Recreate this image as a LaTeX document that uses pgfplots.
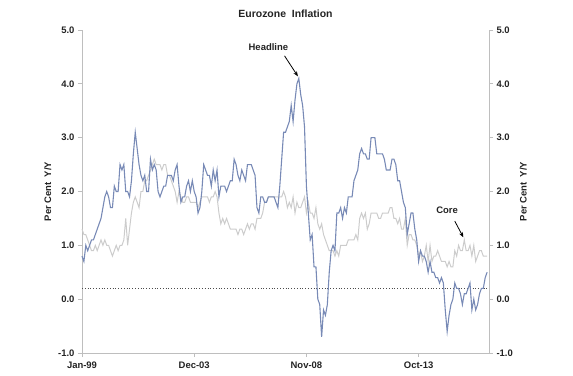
\documentclass[border=0pt]{standalone}
\usepackage{fontspec}
\setmainfont{Liberation Sans}
\usepackage{pgfplots}
\pgfplotsset{compat=1.18}
\usepackage{pgfplotstable}
\usetikzlibrary{arrows.meta}
\definecolor{headc}{RGB}{120,138,182}
\definecolor{corec}{RGB}{204,204,204}
\definecolor{axc}{RGB}{190,190,190}
\definecolor{txt}{RGB}{35,35,35}

\pgfplotstableread{
m v
0 0.8
1 0.7
2 1.0
3 0.9
4 1.0
5 1.1
6 1.1
7 1.2
8 1.3
9 1.4
10 1.5
11 1.7
12 1.9
13 2.0
14 1.9
15 1.7
16 1.7
17 2.1
18 2.0
19 2.0
20 2.5
21 2.4
22 2.5
23 2.0
24 2.0
25 1.9
26 2.2
27 2.7
28 3.1
29 2.8
30 2.5
31 2.3
32 2.2
33 2.3
34 2.0
35 2.0
36 2.6
37 2.4
38 2.5
39 2.4
40 2.0
41 1.9
42 2.0
43 2.1
44 2.1
45 2.3
46 2.3
47 2.3
48 2.2
49 2.4
50 2.5
51 2.1
52 1.8
53 1.9
54 1.9
55 2.1
56 2.2
57 2.0
58 2.2
59 2.0
60 1.9
61 1.6
62 1.7
63 2.0
64 2.5
65 2.4
66 2.3
67 2.3
68 2.1
69 2.4
70 2.2
71 2.4
72 1.9
73 2.1
74 2.1
75 2.1
76 2.0
77 2.1
78 2.2
79 2.2
80 2.6
81 2.5
82 2.3
83 2.2
84 2.4
85 2.3
86 2.2
87 2.5
88 2.5
89 2.5
90 2.4
91 2.3
92 1.7
93 1.6
94 1.9
95 1.9
96 1.8
97 1.8
98 1.9
99 1.9
100 1.9
101 1.9
102 1.8
103 1.7
104 2.1
105 2.6
106 3.1
107 3.1
108 3.2
109 3.3
110 3.6
111 3.3
112 3.7
113 4.0
114 4.1
115 3.8
116 3.6
117 3.2
118 2.1
119 1.6
120 1.1
121 1.2
122 0.6
123 0.6
124 0.0
125 -0.1
126 -0.7
127 -0.2
128 -0.3
129 -0.1
130 0.5
131 0.9
132 1.0
133 0.9
134 1.6
135 1.6
136 1.7
137 1.5
138 1.7
139 1.6
140 1.9
141 1.9
142 1.9
143 2.2
144 2.3
145 2.4
146 2.7
147 2.8
148 2.7
149 2.7
150 2.6
151 2.6
152 3.0
153 3.0
154 3.0
155 2.7
156 2.7
157 2.7
158 2.7
159 2.6
160 2.4
161 2.4
162 2.4
163 2.6
164 2.6
165 2.5
166 2.2
167 2.2
168 2.0
169 1.8
170 1.7
171 1.2
172 1.4
173 1.6
174 1.6
175 1.3
176 1.1
177 0.7
178 0.9
179 0.8
180 0.8
181 0.7
182 0.5
183 0.7
184 0.5
185 0.5
186 0.4
187 0.4
188 0.3
189 0.4
190 0.3
191 -0.2
192 -0.6
193 -0.3
194 -0.1
195 0.0
196 0.3
197 0.2
198 0.2
199 0.1
200 -0.1
201 0.1
202 0.1
203 0.2
204 0.3
205 -0.2
206 0.0
207 -0.2
208 -0.1
209 0.1
210 0.2
211 0.2
212 0.4
213 0.5
}\headline

\pgfplotstableread{
m v
0 1.3
1 1.2
2 1.2
3 1.1
4 1.0
5 0.9
6 0.9
7 1.0
8 0.9
9 1.0
10 1.1
11 1.0
12 1.1
13 1.0
14 1.0
15 0.9
16 0.8
17 0.9
18 1.0
19 0.9
20 1.0
21 1.0
22 1.1
23 1.5
24 1.0
25 1.3
26 1.6
27 1.8
28 1.9
29 1.8
30 1.7
31 2.0
32 2.0
33 2.2
34 2.2
35 2.3
36 2.4
37 2.5
38 2.6
39 2.5
40 2.5
41 2.5
42 2.4
43 2.5
44 2.5
45 2.3
46 2.3
47 2.2
48 2.1
49 2.0
50 1.8
51 2.0
52 1.9
53 1.8
54 1.8
55 1.9
56 1.9
57 1.8
58 1.8
59 1.8
60 1.8
61 1.7
62 1.8
63 1.9
64 1.9
65 1.9
66 1.9
67 1.8
68 1.9
69 1.9
70 2.0
71 1.9
72 1.6
73 1.4
74 1.5
75 1.4
76 1.5
77 1.4
78 1.3
79 1.3
80 1.3
81 1.3
82 1.2
83 1.3
84 1.3
85 1.2
86 1.3
87 1.4
88 1.3
89 1.4
90 1.4
91 1.3
92 1.5
93 1.5
94 1.5
95 1.6
96 1.8
97 1.8
98 1.9
99 1.9
100 1.9
101 1.9
102 1.9
103 1.9
104 1.9
105 1.9
106 2.0
107 1.9
108 1.7
109 1.8
110 1.7
111 1.9
112 1.6
113 1.8
114 1.7
115 1.7
116 1.8
117 1.9
118 1.6
119 1.8
120 1.6
121 1.6
122 1.5
123 1.7
124 1.4
125 1.3
126 1.4
127 1.2
128 1.1
129 1.0
130 0.9
131 0.9
132 0.9
133 0.8
134 0.9
135 0.8
136 1.0
137 1.0
138 1.0
139 1.0
140 1.1
141 1.1
142 1.1
143 1.1
144 1.2
145 1.1
146 1.5
147 1.6
148 1.5
149 1.6
150 1.3
151 1.4
152 1.6
153 1.6
154 1.6
155 1.6
156 1.5
157 1.5
158 1.6
159 1.6
160 1.6
161 1.6
162 1.7
163 1.7
164 1.5
165 1.5
166 1.4
167 1.5
168 1.3
169 1.3
170 1.5
171 1.0
172 1.2
173 1.2
174 1.1
175 1.1
176 1.0
177 0.8
178 0.9
179 0.7
180 0.8
181 1.0
182 0.7
183 1.0
184 0.7
185 0.8
186 0.8
187 0.9
188 0.8
189 0.7
190 0.7
191 0.7
192 0.6
193 0.7
194 0.6
195 0.6
196 0.9
197 0.8
198 1.0
199 0.9
200 0.9
201 1.1
202 0.9
203 0.9
204 1.0
205 0.8
206 1.0
207 0.7
208 0.8
209 0.9
210 0.9
211 0.8
212 0.8
213 0.8
}\core

\begin{document}
\begin{tikzpicture}[font=\bfseries\fontsize{9.5}{11}\selectfont, text=txt]
\begin{axis}[
  at={(0,0)}, anchor=south west,
  scale only axis, width=407bp, height=323bp,
  xmin=0, xmax=214, ymin=-1, ymax=5,
  axis x line*=bottom, axis y line*=left,
  axis line style={axc, line width=0.8pt},
  tick style={axc, line width=0.8pt},
  tick align=outside, major tick length=4bp,
  xtick={0,59,118,177},
  xticklabels={Jan-99,Dec-03,Nov-08,Oct-13},
  ytick={-1,0,1,2,3,4,5},
  yticklabel style={/pgf/number format/.cd, fixed, fixed zerofill, precision=1, assume math mode=true},
  ticklabel style={font=\bfseries\fontsize{9.5}{11}\selectfont, text=txt},
  xticklabel style={yshift=-1bp},
  ylabel={Per Cent\ \ Y/Y},
  ylabel style={font=\bfseries\fontsize{9.5}{11}\selectfont, text=txt},
  title={Eurozone\ \ Inflation},
  title style={font=\bfseries\fontsize{10.5}{12}\selectfont, text=txt, yshift=3bp},
  clip=false,
]
\addplot[dotted, black!70, line width=0.8pt] coordinates {(0,0.2) (214,0.2)};
\addplot[corec, line width=1pt] table[x=m, y=v] {\core};
\addplot[headc, line width=1.1pt] table[x=m, y=v] {\headline};
\node at (axis cs:98,4.68) {Headline};
\draw[-{Stealth[length=5bp,width=4bp]}, black, line width=0.8pt] (axis cs:106.5,4.52) -- (axis cs:113.5,4.14);
\node at (axis cs:192,1.65) {Core};
\draw[-{Stealth[length=5bp,width=4bp]}, black, line width=0.8pt] (axis cs:196,1.45) -- (axis cs:200.5,1.15);
\end{axis}
\begin{axis}[
  at={(0,0)}, anchor=south west,
  scale only axis, width=407bp, height=323bp,
  xmin=0, xmax=214, ymin=-1, ymax=5,
  axis x line=none, axis y line*=right,
  axis line style={axc, line width=0.8pt},
  tick style={axc, line width=0.8pt},
  tick align=outside, major tick length=4bp,
  ytick={-1,0,1,2,3,4,5},
  yticklabel style={/pgf/number format/.cd, fixed, fixed zerofill, precision=1, assume math mode=true},
  ticklabel style={font=\bfseries\fontsize{9.5}{11}\selectfont, text=txt},
  ylabel={Per Cent\ \ Y/Y},
  ylabel style={font=\bfseries\fontsize{9.5}{11}\selectfont, text=txt},
]
\end{axis}
\path[use as bounding box] (-82bp,-23bp) rectangle (491bp,353bp);
\end{tikzpicture}
\end{document}
